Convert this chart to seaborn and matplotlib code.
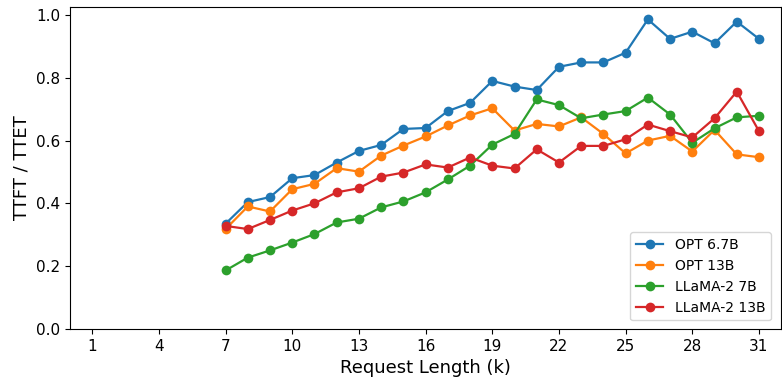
import matplotlib
matplotlib.use("Agg")
import matplotlib.pyplot as plt
import seaborn as sns
import pandas as pd

lengths = list(range(7, 32))
opt_67b = [0.335, 0.404, 0.42, 0.48, 0.49, 0.53, 0.567, 0.586, 0.637, 0.64, 0.694, 0.72, 0.79,
           0.772, 0.761, 0.835, 0.849, 0.849, 0.88, 0.986, 0.924, 0.947, 0.91, 0.979, 0.924]
opt_13b = [0.318, 0.39, 0.374, 0.445, 0.462, 0.512, 0.501, 0.552, 0.584, 0.613, 0.648, 0.68, 0.703,
           0.632, 0.653, 0.645, 0.674, 0.621, 0.559, 0.6, 0.615, 0.565, 0.634, 0.556, 0.547]
llama_7b = [0.186, 0.227, 0.25, 0.275, 0.302, 0.339, 0.351, 0.387, 0.406, 0.435, 0.476, 0.52, 0.587,
            0.621, 0.731, 0.713, 0.671, 0.683, 0.694, 0.737, 0.683, 0.593, 0.639, 0.674, 0.679]
llama_13b = [0.328, 0.318, 0.347, 0.377, 0.4, 0.435, 0.448, 0.485, 0.498, 0.524, 0.514, 0.546, 0.52,
             0.511, 0.572, 0.53, 0.583, 0.583, 0.604, 0.651, 0.63, 0.61, 0.671, 0.756, 0.63]
series_names = ["OPT 6.7B", "OPT 13B", "LLaMA-2 7B", "LLaMA-2 13B"]
xticks = list(range(1, 32, 3))

rows = []
for name, vals in zip(series_names, [opt_67b, opt_13b, llama_7b, llama_13b]):
    for x, v in zip(lengths, vals):
        rows.append({"Request Length (k)": x, "TTFT / TTET": v, "model": name})
df = pd.DataFrame(rows)

fig = plt.figure(figsize=(7.82, 3.78), dpi=100)
ax = fig.add_axes([0.0895, 0.13, 0.9095, 0.851])
sns.lineplot(data=df, x="Request Length (k)", y="TTFT / TTET", hue="model",
             hue_order=series_names, palette="tab10", marker="o", markersize=7,
             markeredgewidth=0, linewidth=1.6, ax=ax)
ax.set_xlim(0, 32)
ax.set_ylim(0, 1.025)
ax.set_xticks(xticks)
ax.set_xticklabels([str(t) for t in xticks])
ax.tick_params(labelsize=11)
ax.set_xlabel("Request Length (k)", fontsize=13)
ax.set_ylabel("TTFT / TTET", fontsize=13)
ax.legend(loc="lower right", fontsize=10, title=None,
          bbox_to_anchor=(0.995, 0.005))
fig.savefig("out.png", dpi=100)
